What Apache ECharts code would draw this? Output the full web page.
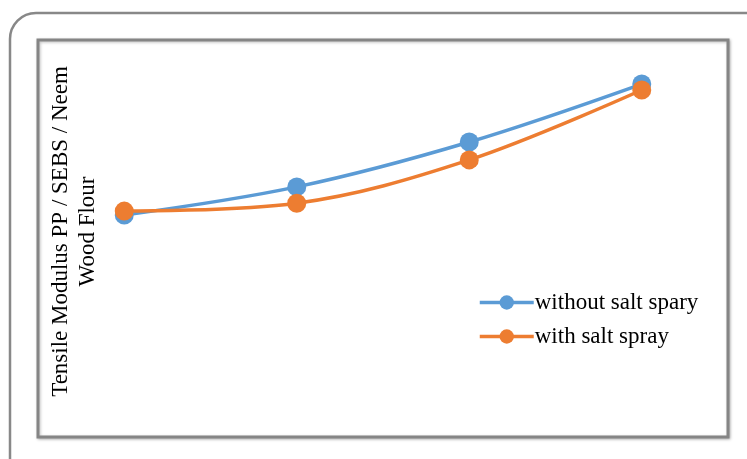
<!DOCTYPE html>
<html>
<head>
<meta charset="utf-8">
<script src="https://cdn.jsdelivr.net/npm/echarts@6/dist/echarts.min.js"></script>
<style>
  html, body { margin: 0; padding: 0; background: #fff; }
  #chart { width: 747px; height: 459px; }
</style>
</head>
<body>
<div id="chart"></div>
<script>
// Sample groups along the x axis (no tick labels are shown)
const categories = ['1', '2', '3', '4'];
// Tensile modulus, relative units on a hidden 0–100 scale
const withoutSaltSpray = [55.9, 63.0, 74.3, 88.9];
const withSaltSpray = [56.9, 58.9, 69.8, 87.4];
const seriesNames = ['without salt spary', 'with salt spray'];
const yTitle = 'Tensile Modulus PP / SEBS / Neem\nWood Flour';

const blue = '#5B9BD5';
const orange = '#ED7D31';
const serif = '"Liberation Serif", "DejaVu Serif", serif';

const chart = echarts.init(document.getElementById('chart'));

function lineSeries(name, data, color) {
  return {
    name: name,
    type: 'line',
    data: data,
    smooth: 0.35,
    symbol: 'circle',
    symbolSize: 19,
    lineStyle: { color: color, width: 3.5 },
    itemStyle: { color: color },
    z: 3
  };
}

chart.setOption({
  animation: false,
  backgroundColor: '#fff',
  graphic: [{
    type: 'rect',
    shape: { x: 10, y: 13, width: 770, height: 480, r: 26 },
    style: { fill: 'none', stroke: '#888', lineWidth: 2.5 },
    z: 0
  }],
  grid: {
    show: true,
    left: 38, top: 40, width: 690, height: 397,
    borderColor: '#858585',
    borderWidth: 3,
    shadowColor: 'rgba(0,0,0,0.25)',
    shadowBlur: 3,
    shadowOffsetX: 1,
    shadowOffsetY: 1,
    backgroundColor: '#fff'
  },
  legend: {
    orient: 'vertical',
    left: 473, top: 286,
    itemWidth: 54, itemHeight: 18,
    itemGap: 11,
    lineStyle: { width: 3.5 },
    textStyle: { fontFamily: serif, fontSize: 23, color: '#000', padding: [0, 0, 0, -4] },
    data: seriesNames
  },
  xAxis: {
    type: 'category',
    data: categories,
    boundaryGap: true,
    axisLine: { show: false },
    axisTick: { show: false },
    axisLabel: { show: false },
    splitLine: { show: false }
  },
  yAxis: {
    type: 'value',
    min: 0, max: 100,
    axisLine: { show: false },
    axisTick: { show: false },
    axisLabel: { show: false },
    splitLine: { show: false },
    name: yTitle,
    nameLocation: 'middle',
    nameRotate: 90,
    nameGap: -63,
    nameTextStyle: {
      fontFamily: serif, fontSize: 23, color: '#000', lineHeight: 27, align: 'center',
      padding: [0, 0, 0, 14]
    }
  },
  series: [
    lineSeries(seriesNames[0], withoutSaltSpray, blue),
    lineSeries(seriesNames[1], withSaltSpray, orange)
  ]
});
</script>
</body>
</html>
